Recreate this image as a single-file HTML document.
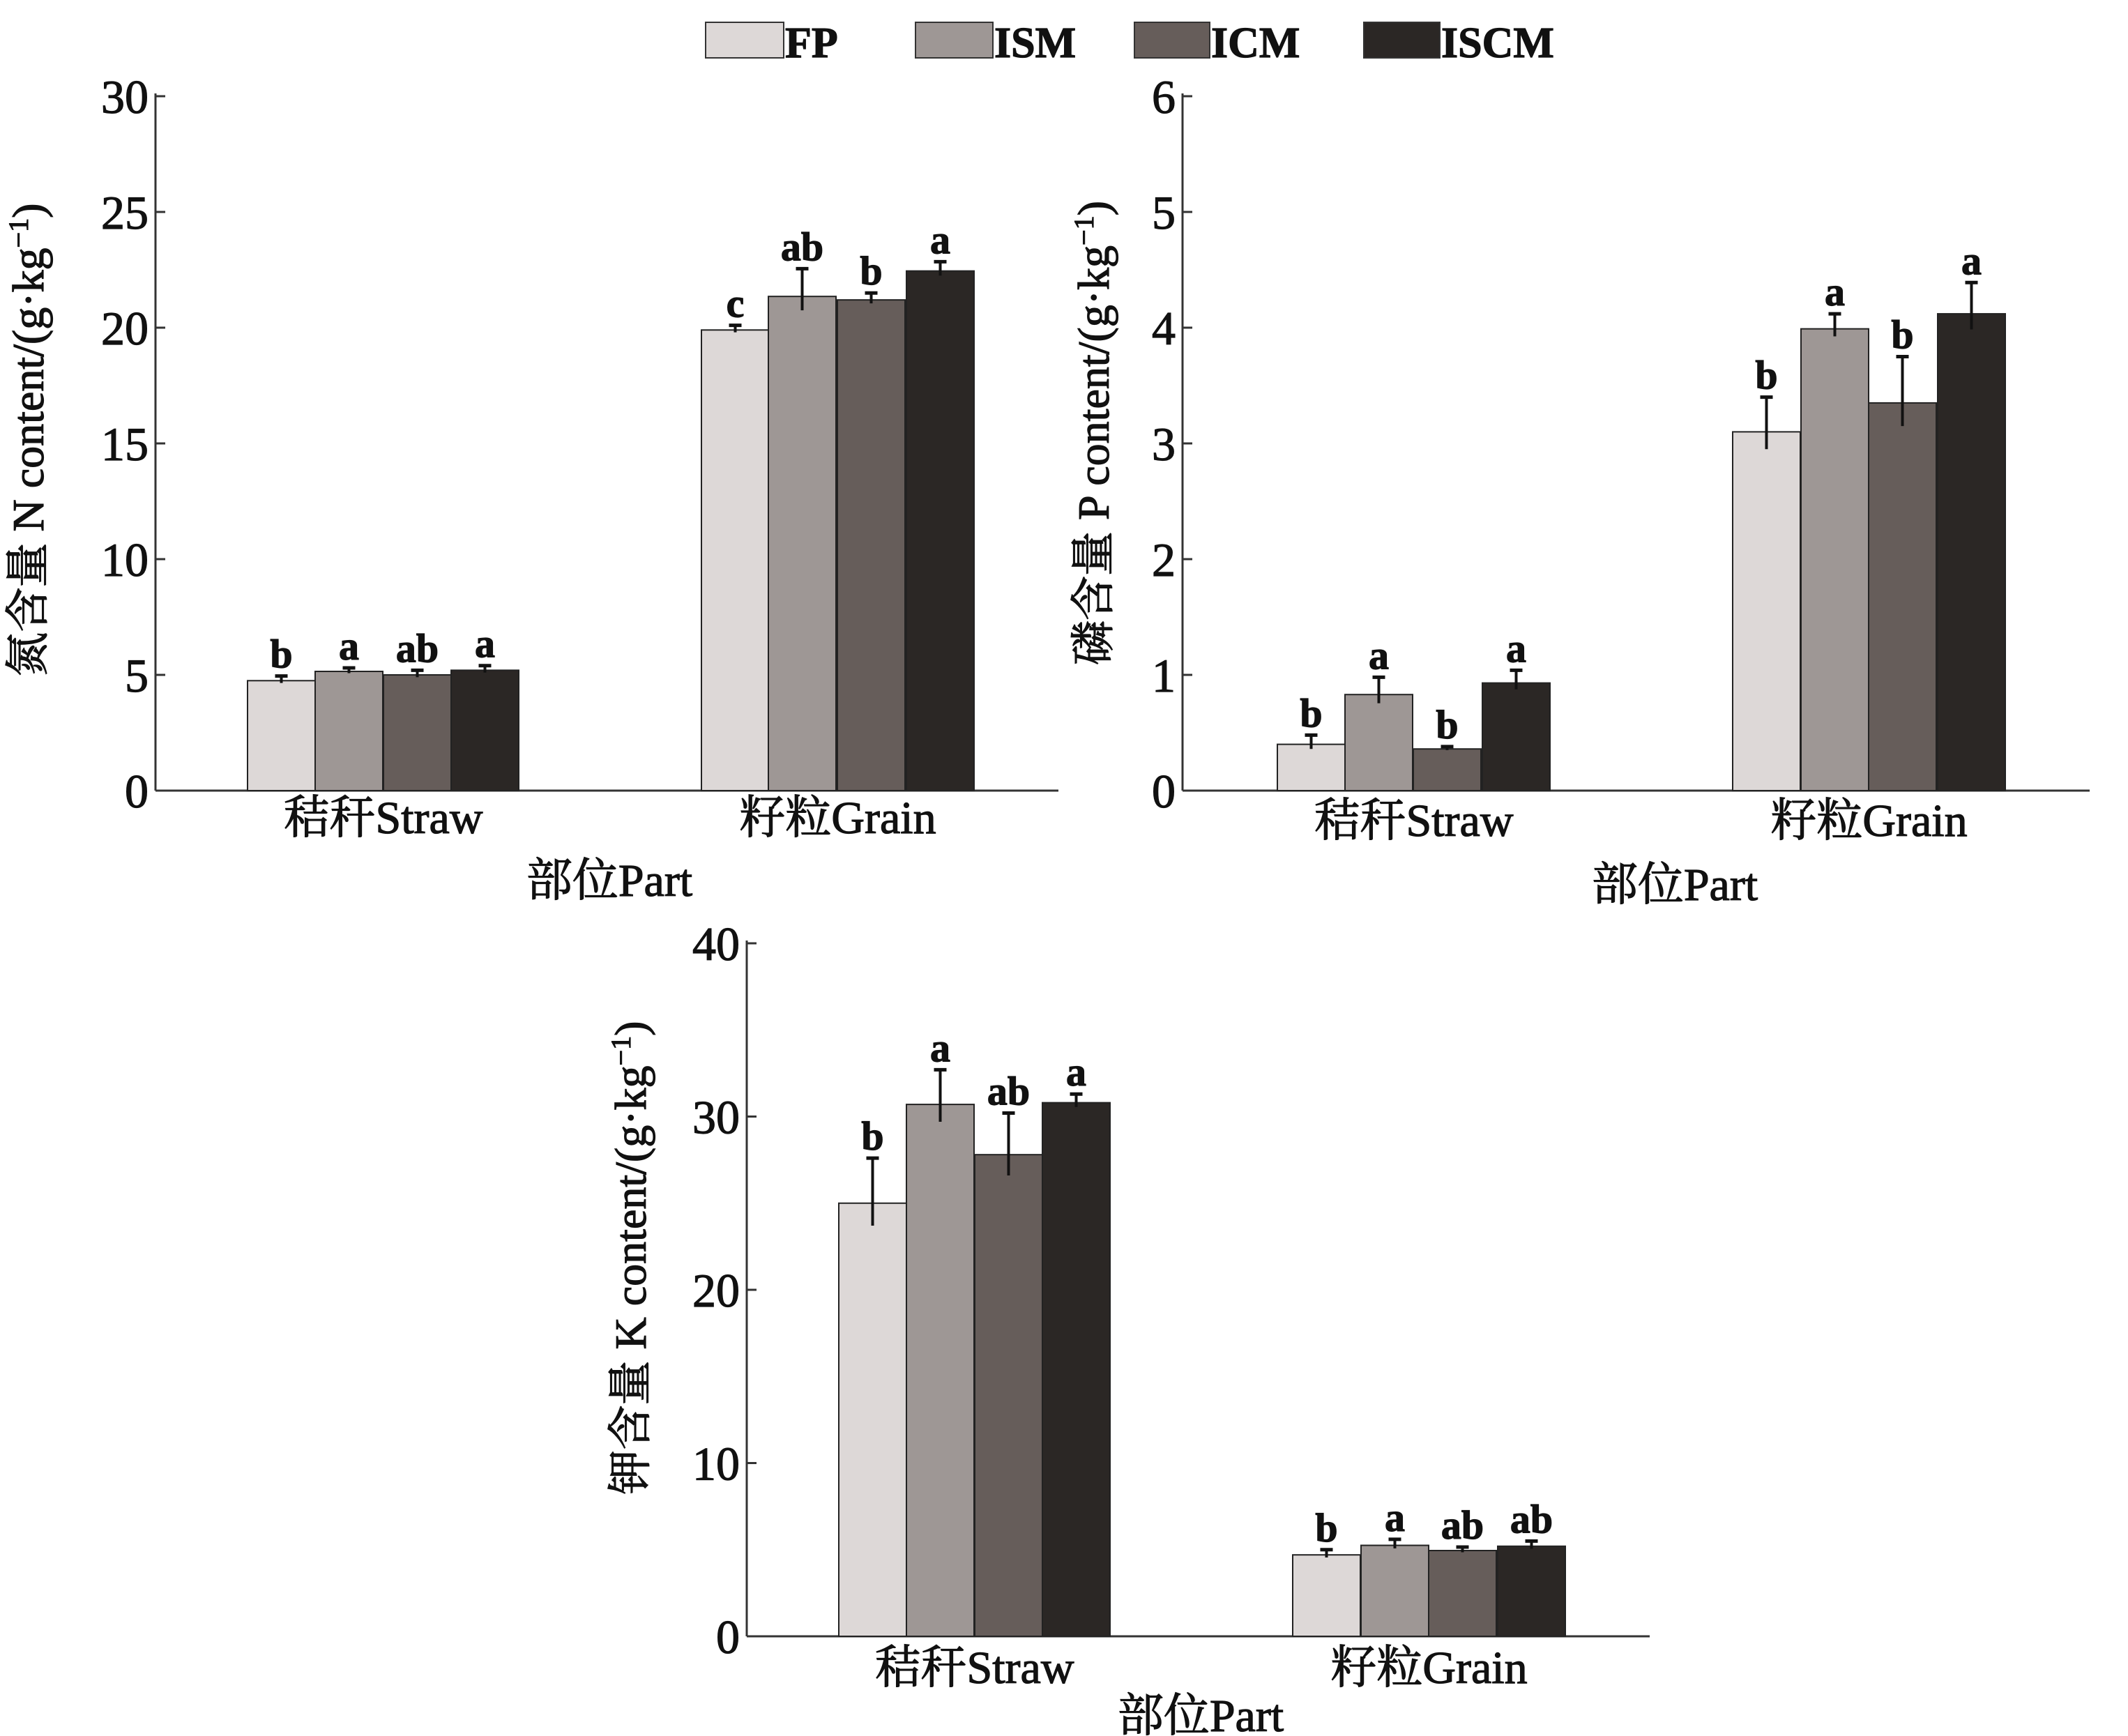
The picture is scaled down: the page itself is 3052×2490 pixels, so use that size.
<!DOCTYPE html>
<html><head><meta charset="utf-8"><style>
html,body{margin:0;padding:0;background:#fff;}
svg{display:block;}
text{font-family:"Liberation Serif","Noto Serif CJK SC",serif;fill:#111;stroke:#111;stroke-width:1.2;}
</style></head><body>
<svg width="3052" height="2490" viewBox="0 0 3052 2490" xmlns="http://www.w3.org/2000/svg">
<g id="legend" font-weight="bold" font-size="62">
<rect x="1012" y="32" width="112" height="51" fill="#ddd8d7" stroke="#333" stroke-width="2"/><text x="1126" y="82">FP</text>
<rect x="1313" y="32" width="111" height="51" fill="#9e9795" stroke="#333" stroke-width="2"/><text x="1426" y="82">ISM</text>
<rect x="1627" y="32" width="108" height="51" fill="#665d5a" stroke="#333" stroke-width="2"/><text x="1737" y="82">ICM</text>
<rect x="1956" y="32" width="109" height="51" fill="#2b2725" stroke="#333" stroke-width="2"/><text x="2067" y="82">ISCM</text>
</g>
<g id="charts"></g>
</svg>
<script>
const NS="http://www.w3.org/2000/svg";
const g=document.getElementById('charts');
function el(t,a,txt){const e=document.createElementNS(NS,t);for(const k in a)e.setAttribute(k,a[k]);if(txt!==undefined)e.textContent=txt;g.appendChild(e);return e;}
const cols=["#ddd8d7","#9e9795","#665d5a","#2b2725"];
function chart(c){
 const sc=(c.y0-c.yTop)/c.max;
 const Y=v=>c.y0-v*sc;
 el('line',{x1:c.ax,y1:c.yTop-4,x2:c.ax,y2:c.y0,stroke:'#333','stroke-width':3});
 el('line',{x1:c.ax,y1:c.y0,x2:c.xEnd,y2:c.y0,stroke:'#333','stroke-width':3});
 c.ticks.forEach(t=>{const y=Y(t);el('line',{x1:c.ax,y1:y,x2:c.ax+14,y2:y,stroke:'#333','stroke-width':3});
  el('text',{x:c.ax-10,y:y+24,'text-anchor':'end','font-size':68},String(t));});
 c.groups.forEach(gr=>{
  gr.x.forEach((x,i)=>{
   const v=gr.v[i],e=gr.e[i];
   el('rect',{x:x,y:Y(v),width:97,height:c.y0-Y(v),fill:cols[i],stroke:'#222','stroke-width':2});
   const cx=x+48.5;
   el('line',{x1:cx,y1:Y(v+e),x2:cx,y2:Y(Math.max(0,v-e*0.5)),stroke:'#111','stroke-width':4});
   el('line',{x1:cx-9,y1:Y(v+e),x2:cx+9,y2:Y(v+e),stroke:'#111','stroke-width':5});
   el('text',{x:cx,y:Y(v+e)-12,'text-anchor':'middle','font-size':58,'font-weight':'bold'},gr.l[i]);
  });
  el('text',{x:(gr.x[0]+gr.x[3]+97)/2,y:c.catY,'text-anchor':'middle','font-size':66},gr.name);
 });
 el('text',{x:c.partX,y:c.partY,'text-anchor':'middle','font-size':66},'部位Part');
 const t=el('text',{x:0,y:0,'text-anchor':'middle','font-size':64,transform:`translate(${c.ylx},${c.yly}) rotate(-90)`});
 t.innerHTML=c.ylab+'/(g·kg<tspan baseline-shift="super" font-size="40">−1</tspan>)';
}
chart({ax:223,y0:1134,yTop:138,max:30,xEnd:1518,ticks:[0,5,10,15,20,25,30],catY:1195,partX:874,partY:1285,ylx:62,yly:631,ylab:'氮含量 N content',
 groups:[{name:'秸秆Straw',x:[355,452,550,647],v:[4.75,5.15,5.0,5.2],e:[0.2,0.15,0.2,0.2],l:['b','a','ab','a']},
 {name:'籽粒Grain',x:[1006,1102,1201,1300],v:[19.9,21.35,21.2,22.45],e:[0.2,1.2,0.3,0.4],l:['c','ab','b','a']}]});
chart({ax:1696,y0:1134,yTop:138,max:6,xEnd:2997,ticks:[0,1,2,3,4,5,6],catY:1199,partX:2402,partY:1291,ylx:1590,yly:621,ylab:'磷含量 P content',
 groups:[{name:'秸秆Straw',x:[1832,1929,2027,2126],v:[0.4,0.83,0.36,0.93],e:[0.08,0.15,0.02,0.11],l:['b','a','b','a']},
 {name:'籽粒Grain',x:[2485,2583,2680,2779],v:[3.1,3.99,3.35,4.12],e:[0.3,0.13,0.4,0.27],l:['b','a','b','a']}]});
chart({ax:1071,y0:2347,yTop:1353,max:40,xEnd:2366,ticks:[0,10,20,30,40],catY:2414,partX:1722,partY:2483,ylx:926,yly:1804,ylab:'钾含量 K content',
 groups:[{name:'秸秆Straw',x:[1203,1300,1398,1495],v:[25,30.7,27.8,30.8],e:[2.6,2.0,2.4,0.5],l:['b','a','ab','a']},
 {name:'籽粒Grain',x:[1854,1952,2049,2148],v:[4.7,5.25,4.95,5.2],e:[0.3,0.35,0.2,0.3],l:['b','a','ab','ab']}]});
</script>
</body></html>
